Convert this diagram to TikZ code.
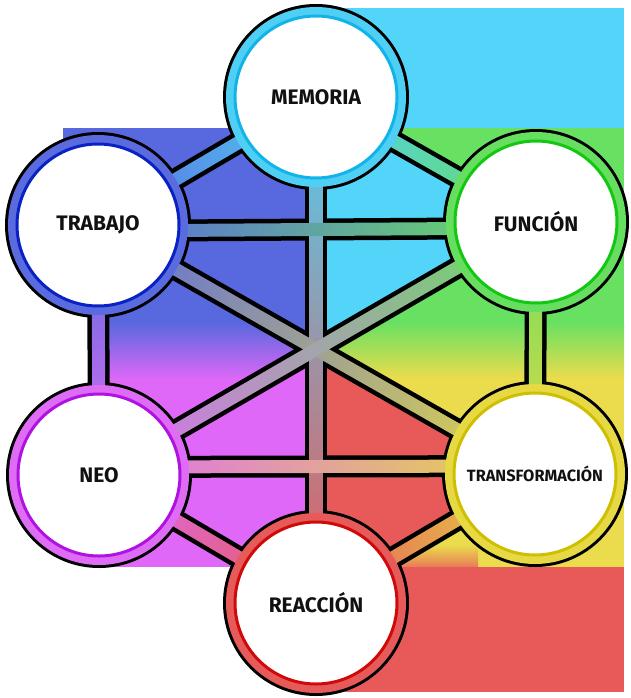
\documentclass[tikz,border=0pt]{standalone}
\usepackage{fontspec}
\newfontfamily\netfont{Fira Sans}
\definecolor{memoriaRing}{HTML}{4FCFF3}
\definecolor{memoriaDark}{HTML}{10B4E8}
\definecolor{trabajoRing}{HTML}{5A6BDF}
\definecolor{trabajoDark}{HTML}{0A22C4}
\definecolor{funcionRing}{HTML}{68DE60}
\definecolor{funcionDark}{HTML}{12C812}
\definecolor{transformacionRing}{HTML}{E6D944}
\definecolor{transformacionDark}{HTML}{D0BE00}
\definecolor{reaccionRing}{HTML}{E65A5A}
\definecolor{reaccionDark}{HTML}{D00A0A}
\definecolor{neoRing}{HTML}{DE6CF4}
\definecolor{neoDark}{HTML}{B012E2}
\definecolor{netCyan}{HTML}{52D5F9}
\definecolor{netBlue}{HTML}{5868DE}
\definecolor{netGreen}{HTML}{68E062}
\definecolor{netYellow}{HTML}{EADC4C}
\definecolor{netRed}{HTML}{E85A5A}
\definecolor{netPurple}{HTML}{E068F8}
\definecolor{netInk}{HTML}{111111}
\pgfdeclarelayer{backdrop}
\pgfdeclarelayer{casing}
\pgfdeclarelayer{linkfill}
\pgfsetlayers{backdrop,casing,linkfill,main}
\tikzset{
  net hub/.style={circle, minimum size=162pt, inner sep=0pt, fill=white, draw=#1Dark, line width=3pt,
    preaction={draw=#1Ring, line width=18pt},
    font=\netfont\bfseries\fontsize{21}{21}\selectfont, text=netInk},
  net small/.style={font=\netfont\bfseries\fontsize{16.3}{16.3}\selectfont},
  net casing/.style={draw=black, line width=22pt},
  net rim/.style={fill=black},
}
\newdimen\netdx
\newdimen\netdy
\newcommand\netlink[3]{%
  \path ([yshift=#3]#1.center) coordinate (lkA) ([yshift=#3]#2.center) coordinate (lkB);
  \pgfextractx{\netdx}{\pgfpointdiff{\pgfpointanchor{lkA}{center}}{\pgfpointanchor{lkB}{center}}}%
  \pgfextracty{\netdy}{\pgfpointdiff{\pgfpointanchor{lkA}{center}}{\pgfpointanchor{lkB}{center}}}%
  \pgfmathsetmacro\netlen{veclen(\netdx,\netdy)}%
  \pgfmathsetmacro\netang{atan2(\netdy,\netdx)}%
  \begin{scope}[transform canvas={shift={(lkA)}, rotate=\netang}]
    \shade[left color=#1Ring, right color=#2Ring] (0pt,-6.5pt) rectangle (\netlen pt,6.5pt);
  \end{scope}}

\begin{document}
\begin{tikzpicture}[x=1pt,y=-1pt]
  \useasboundingbox (0,0) rectangle (631,698);
  \node[net hub=memoria] (memoria) at (316,97) {MEMORIA};
  \node[net hub=trabajo] (trabajo) at (98,225) {TRABAJO};
  \node[net hub=funcion] (funcion) at (536,222) {FUNCIÓN};
  \node[net hub=neo] (neo) at (99,475) {NEO};
  \node[net hub=transformacion, net small] (transformacion) at (535,474) {TRANSFORMACIÓN};
  \node[net hub=reaccion] (reaccion) at (316,603) {REACCIÓN};
  \coordinate (core) at (316,350);

  \begin{pgfonlayer}{backdrop}
    \fill[netCyan] (318,8) rectangle (624,128);
    \fill[netGreen] (318,128) rectangle (624,322);
    \shade[top color=netGreen, bottom color=netYellow] (318,322) rectangle (624,378);
    \fill[netYellow] (318,378) rectangle (624,567);
    \shade[top color=netYellow, bottom color=netRed!75!netYellow] (318,545) rectangle (478,567);
    \fill[netRed] (318,567) rectangle (624,692);
    \fill[netCyan] (memoria.center) -- (funcion.center) -- (core) -- cycle;
    \fill[netRed] (core) -- (transformacion.center) -- (reaccion.center) -- cycle;
    \fill[netBlue] (63,128) rectangle (318,300);
    \fill[netBlue] (98,300) rectangle (318,322);
    \shade[top color=netBlue, bottom color=netPurple] (98,322) rectangle (318,380);
    \fill[netPurple] (98,380) rectangle (318,567);
    \fill[netBlue] (memoria.center) -- (trabajo.center) -- (core) -- cycle;
    \fill[netPurple] (core) -- (neo.center) -- (reaccion.center) -- cycle;
  \end{pgfonlayer}

  \begin{pgfonlayer}{casing}
    \foreach \n in {memoria,trabajo,funcion,neo,transformacion,reaccion}
      \fill[net rim] (\n) circle[radius=93pt];
  \end{pgfonlayer}

  \foreach \a/\b/\off in {memoria/trabajo/0, memoria/funcion/0, memoria/reaccion/0,
      trabajo/funcion/-6, trabajo/neo/0, trabajo/transformacion/0, funcion/neo/0,
      funcion/transformacion/0, neo/transformacion/8, neo/reaccion/0, transformacion/reaccion/0}{
    \begin{pgfonlayer}{casing}
      \draw[net casing] ([yshift=\off]\a.center) -- ([yshift=\off]\b.center);
    \end{pgfonlayer}
    \begin{pgfonlayer}{linkfill}
      \netlink{\a}{\b}{\off}
    \end{pgfonlayer}
  }
\end{tikzpicture}
\end{document}
